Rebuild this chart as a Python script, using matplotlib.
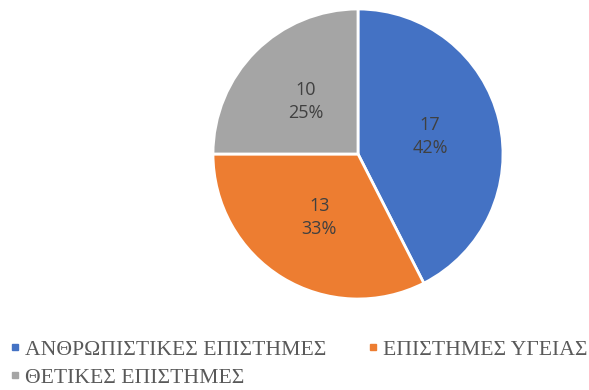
import matplotlib.pyplot as plt
from matplotlib.lines import Line2D

categories = ['ΑΝΘΡΩΠΙΣΤΙΚΕΣ ΕΠΙΣΤΗΜΕΣ', 'ΕΠΙΣΤΗΜΕΣ ΥΓΕΙΑΣ', 'ΘΕΤΙΚΕΣ ΕΠΙΣΤΗΜΕΣ']
counts = [17, 13, 10]
percents = [42, 33, 25]  # as printed on the chart
colors = ['#4472C4', '#ED7D31', '#A5A5A5']

fig = plt.figure(figsize=(5.89, 3.90), dpi=100)
# pie centre ~ (358,154) px, radius ~145 px
ax = fig.add_axes([(358 - 145) / 589, 1 - (154 + 145) / 390, 290 / 589, 290 / 390])

wedges, texts, autotexts = ax.pie(counts, colors=colors, startangle=90, counterclock=False,
                                  autopct='%1.0f%%', pctdistance=0.51,
                                  wedgeprops=dict(edgecolor='white', linewidth=2),
                                  textprops=dict(color='#404040', fontsize=13, family='Open Sans',
                                                 linespacing=1.35))
for t, n, p in zip(autotexts, counts, percents):
    t.set_text('{}\n{}%'.format(n, p))
ax.set_aspect('equal')
ax.set_xlim(-1, 1)
ax.set_ylim(-1, 1)

handles = [Line2D([], [], marker='s', linestyle='none', markersize=5,
                  markerfacecolor=c, markeredgecolor=c) for c in colors]
# legend fills column-wise: put the third entry in the first column
order = [0, 2, 1]
fig.legend([handles[i] for i in order], [categories[i] for i in order],
           loc='upper left', bbox_to_anchor=(0.0, 1 - 331 / 390),
           ncol=2, frameon=False, handlelength=0.6, handletextpad=0.15, columnspacing=1.85,
           labelspacing=0.35, borderaxespad=0,
           prop=dict(family='Liberation Serif', size=15.6), labelcolor='#595959')

fig.savefig('out.png', dpi=100)
